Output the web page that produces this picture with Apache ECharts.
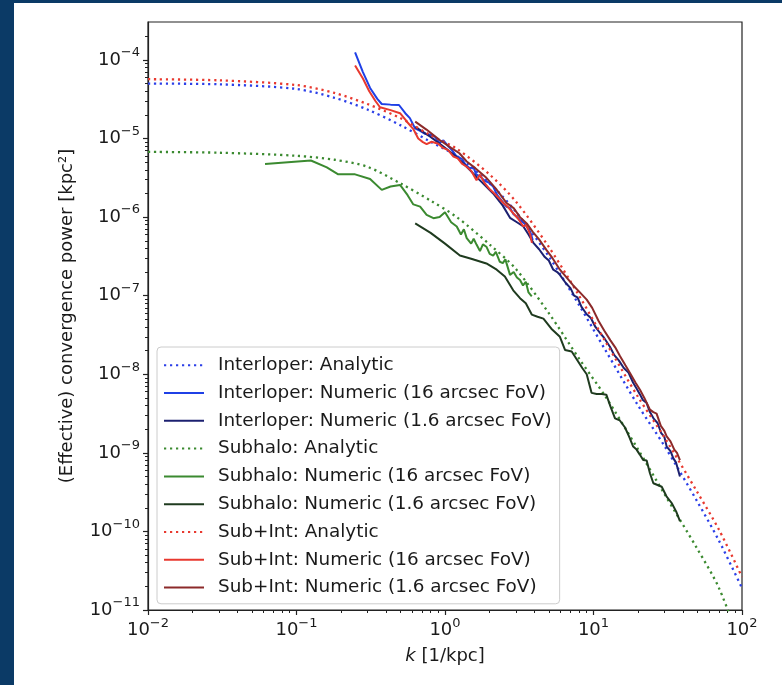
<!DOCTYPE html>
<html>
<head>
<meta charset="utf-8">
<script src="https://cdn.jsdelivr.net/npm/echarts@6/dist/echarts.min.js"></script>
<style>
html, body { margin: 0; padding: 0; background: #fff; }
#container { width: 782px; height: 685px; }
.edge { position: absolute; background: #0b3a66; }
</style>
</head>
<body>
<div id="container"></div>
<div class="edge" style="left:0;top:0;width:14px;height:685px"></div>
<div class="edge" style="left:0;top:0;width:782px;height:3px"></div>
<script>
// tick values
var xMajor = [0.01, 0.1, 1, 10, 100];
var yMajor = [1e-11, 1e-10, 1e-9, 1e-8, 1e-7, 1e-6, 1e-5, 1e-4];

// analytic curves
var kAnalytic = [0.01, 0.03, 0.1, 0.18, 0.3, 0.5, 0.8, 1.2, 2, 3, 5, 8, 12, 20, 30, 50, 70, 100];
var interAnalytic = [5.0e-5, 4.9e-5, 4.27e-5, 3.3e-5, 2.34e-5, 1.48e-5, 9.1e-6, 6.0e-6, 2.69e-6, 1.17e-6,
    3.16e-7, 7.6e-8, 2.04e-8, 3.98e-9, 1.23e-9, 2.4e-10, 7.6e-11, 1.9e-11];
var subAnalytic = [6.76e-6, 6.6e-6, 6.03e-6, 5.37e-6, 4.37e-6, 2.69e-6, 1.62e-6, 1.0e-6, 4.47e-7, 2.19e-7,
    6.0e-8, 1.58e-8, 5.25e-9, 1.1e-9, 3.0e-10, 6.0e-11, 1.9e-11, 3.2e-12];
var sumAnalytic = [5.69e-5, 5.5e-5, 4.79e-5, 3.8e-5, 2.75e-5, 1.82e-5, 1.1e-5, 7.4e-6, 3.47e-6, 1.58e-6,
    4.17e-7, 1.0e-7, 2.63e-8, 5.1e-9, 1.58e-9, 3.16e-10, 1.05e-10, 2.63e-11];

// interloper numeric, 16 arcsec
var kInter16 = [0.248, 0.28, 0.313, 0.35, 0.375, 0.43, 0.49, 0.54, 0.58, 0.628, 0.68, 0.73, 0.8, 0.857, 0.92,
    0.975, 1.05, 1.12, 1.2, 1.3, 1.38, 1.47, 1.55, 1.62, 1.72, 1.85, 1.97, 2.11, 2.25, 2.42, 2.6, 2.75, 2.88,
    3.03, 3.2, 3.38, 3.55, 3.75, 3.9];
var pInter16 = [1.25e-4, 7.0e-5, 4.4e-5, 3.2e-5, 2.75e-5, 2.7e-5, 2.67e-5, 2.1e-5, 1.82e-5, 1.35e-5, 1.25e-5,
    1.15e-5, 1.12e-5, 1.05e-5, 8.8e-6, 9.5e-6, 8.0e-6, 7.0e-6, 5.9e-6, 5.5e-6, 4.6e-6, 4.17e-6, 4.4e-6,
    3.5e-6, 3.3e-6, 2.9e-6, 2.75e-6, 2.45e-6, 1.9e-6, 1.6e-6, 1.35e-6, 1.3e-6, 1.1e-6, 1.02e-6, 9.2e-7,
    8.5e-7, 7.6e-7, 6.5e-7, 5.1e-7];

// interloper numeric, 1.6 arcsec
var kInter16s = [0.63, 0.8, 0.975, 1.2, 1.4, 1.7, 2.11, 2.45, 2.74, 3.05, 3.37, 3.65, 3.94, 4.3, 4.7, 5.0,
    5.36, 5.7, 5.94, 6.5, 7.0, 7.4, 7.8, 8.3, 9.0, 9.6, 10.3, 11.0, 11.8, 12.9, 13.8, 14.8, 16.0, 17.2,
    18.5, 19.5, 20.6, 21.5, 22.8, 24.0, 25.5, 27.0, 28.5, 30.0, 31.1, 33.0, 34.5, 36.0, 38.2];
var pInter16s = [1.41e-5, 1.05e-5, 7.9e-6, 5.8e-6, 4.37e-6, 3.0e-6, 2.0e-6, 1.4e-6, 9.8e-7, 8.6e-7, 7.6e-7,
    6.0e-7, 4.7e-7, 3.9e-7, 3.1e-7, 2.8e-7, 2.14e-7, 2.0e-7, 1.84e-7, 1.45e-7, 1.25e-7, 1.0e-7, 9.5e-8,
    7.2e-8, 5.8e-8, 5.2e-8, 4.0e-8, 3.4e-8, 2.9e-8, 2.24e-8, 1.75e-8, 1.5e-8, 1.2e-8, 1.05e-8, 7.8e-9,
    6.6e-9, 5.5e-9, 4.7e-9, 4.3e-9, 3.3e-9, 2.7e-9, 2.4e-9, 1.8e-9, 1.6e-9, 1.2e-9, 1.05e-9, 8.5e-10,
    7.5e-10, 5.0e-10];

// subhalo numeric, 16 arcsec
var kSub16 = [0.0614, 0.125, 0.16, 0.191, 0.248, 0.313, 0.375, 0.43, 0.498, 0.56, 0.612, 0.68, 0.752, 0.836,
    0.92, 1.0, 1.1, 1.2, 1.28, 1.34, 1.4, 1.5, 1.56, 1.63, 1.72, 1.8, 1.9, 2.0, 2.11, 2.2, 2.34, 2.45, 2.55,
    2.74, 2.9, 3.05, 3.2, 3.35, 3.5, 3.65, 3.84];
var pSub16 = [4.75e-6, 5.25e-6, 4.3e-6, 3.5e-6, 3.5e-6, 3.06e-6, 2.22e-6, 2.45e-6, 2.57e-6, 1.9e-6, 1.45e-6,
    1.36e-6, 1.07e-6, 9.7e-7, 1.0e-6, 1.15e-6, 8.6e-7, 7.6e-7, 6.0e-7, 7.0e-7, 5.4e-7, 4.6e-7, 5.3e-7,
    4.47e-7, 3.7e-7, 4.5e-7, 4.2e-7, 3.4e-7, 3.24e-7, 3.6e-7, 2.7e-7, 2.6e-7, 2.9e-7, 1.84e-7, 2.0e-7,
    1.7e-7, 1.58e-7, 1.35e-7, 1.5e-7, 1.1e-7, 9.8e-8];

// subhalo numeric, 1.6 arcsec
var kSub16s = [0.63, 0.8, 1.0, 1.26, 1.5, 1.9, 2.23, 2.53, 2.88, 3.2, 3.5, 3.84, 4.2, 4.6, 5.2, 5.94, 6.43,
    7.13, 7.8, 8.4, 9.0, 9.7, 10.5, 11.4, 12.2, 13.0, 13.96, 15.0, 16.3, 17.4, 18.5, 19.5, 20.5, 21.6, 22.8,
    24.0, 25.3, 27.0, 28.8, 31.0, 33.6, 36.0, 38.2];
var pSub16s = [8.3e-7, 6.3e-7, 4.6e-7, 3.24e-7, 2.95e-7, 2.57e-7, 2.14e-7, 1.75e-7, 1.17e-7, 9.3e-8, 8.0e-8,
    5.75e-8, 5.4e-8, 5.1e-8, 3.8e-8, 3.0e-8, 2.04e-8, 1.95e-8, 1.5e-8, 1.2e-8, 1.0e-8, 5.8e-9, 5.6e-9,
    5.6e-9, 5.5e-9, 3.9e-9, 2.75e-9, 2.6e-9, 2.1e-9, 1.6e-9, 1.2e-9, 1.1e-9, 9.5e-10, 8.1e-10, 8.0e-10,
    5.5e-10, 4.1e-10, 3.9e-10, 3.7e-10, 2.8e-10, 2.3e-10, 1.8e-10, 1.35e-10];

// sub+int numeric, 16 arcsec
var kSum16 = [0.248, 0.28, 0.309, 0.34, 0.365, 0.43, 0.498, 0.56, 0.612, 0.66, 0.71, 0.752, 0.813, 0.834,
    0.9, 0.97, 1.05, 1.14, 1.22, 1.3, 1.4, 1.5, 1.63, 1.72, 1.85, 2.01, 2.15, 2.3, 2.47, 2.65, 2.88, 3.1,
    3.37, 3.5, 3.64, 3.75, 3.85];
var pSum16 = [8.5e-5, 5.8e-5, 4.0e-5, 3.0e-5, 2.5e-5, 2.3e-5, 2.1e-5, 1.6e-5, 1.32e-5, 1.0e-5, 9.0e-6,
    8.5e-6, 9.1e-6, 9.5e-6, 8.6e-6, 7.6e-6, 7.1e-6, 5.9e-6, 5.6e-6, 4.8e-6, 4.37e-6, 3.9e-6, 2.95e-6,
    3.47e-6, 2.7e-6, 2.24e-6, 2.0e-6, 1.75e-6, 1.51e-6, 1.35e-6, 1.12e-6, 9.6e-7, 7.6e-7, 8.0e-7, 6.9e-7,
    6.0e-7, 4.7e-7];

// sub+int numeric, 1.6 arcsec
var kSum16s = [0.63, 0.75, 0.925, 1.1, 1.25, 1.4, 1.6, 1.9, 2.2, 2.6, 2.9, 3.2, 3.55, 3.9, 4.3, 4.83, 5.3,
    5.94, 6.6, 7.3, 8.1, 9.0, 9.8, 10.8, 11.8, 13.0, 14.0, 15.1, 16.4, 17.8, 19.2, 20.6, 22.0, 24.0, 25.3,
    26.6, 28.4, 30.0, 31.1, 33.0, 35.0, 36.5, 38.2];
var pSum16s = [1.64e-5, 1.3e-5, 9.5e-6, 7.6e-6, 6.5e-6, 5.1e-6, 4.2e-6, 3.16e-6, 2.3e-6, 1.51e-6, 1.3e-6,
    1.0e-6, 8.3e-7, 6.5e-7, 5.2e-7, 3.8e-7, 3.0e-7, 2.14e-7, 1.7e-7, 1.35e-7, 1.1e-7, 8.9e-8, 7.0e-8,
    4.8e-8, 3.6e-8, 2.7e-8, 2.2e-8, 1.7e-8, 1.3e-8, 1.0e-8, 7.8e-9, 6.3e-9, 5.0e-9, 3.55e-9, 3.3e-9,
    3.16e-9, 2.2e-9, 1.9e-9, 1.62e-9, 1.4e-9, 1.1e-9, 1.0e-9, 8.1e-10];

var names = [
    'Interloper: Analytic',
    'Interloper: Numeric (16 arcsec FoV)',
    'Interloper: Numeric (1.6 arcsec FoV)',
    'Subhalo: Analytic',
    'Subhalo: Numeric (16 arcsec FoV)',
    'Subhalo: Numeric (1.6 arcsec FoV)',
    'Sub+Int: Analytic',
    'Sub+Int: Numeric (16 arcsec FoV)',
    'Sub+Int: Numeric (1.6 arcsec FoV)'
];

var FONT = 'DejaVu Sans';
var TXT = '#1a1a1a';

// minor ticks at 2..9 x 10^n
var xMinor = [], yMinor = [];
for (var e = -2; e < 2; e++) {
    for (var m = 2; m < 10; m++) xMinor.push(m * Math.pow(10, e));
}
for (var e2 = -11; e2 < -3; e2++) {
    for (var m2 = 2; m2 < 10; m2++) {
        var v = m2 * Math.pow(10, e2);
        if (v < 3.0e-4) yMinor.push(v);
    }
}

function zip(xs, ys) {
    return xs.map(function (x, i) { return [x, ys[i]]; });
}

function sciLabel(val) {
    var p = Math.round(Math.log10(val));
    return '{b|10}{s|' + (p < 0 ? '\u2212' : '') + Math.abs(p) + '}';
}

var labelRich = {
    b: { fontFamily: FONT, fontSize: 18, color: TXT },
    s: { fontFamily: FONT, fontSize: 13, color: TXT, padding: [0, 0, 14, 0] }
};

function makeLine(name, xs, ys, color, dotted, smooth) {
    return {
        name: name,
        type: 'line',
        data: zip(xs, ys),
        symbol: 'none',
        smooth: smooth ? 0.3 : false,
        clip: true,
        silent: true,
        lineStyle: {
            color: color,
            width: dotted ? 2.3 : 2,
            type: dotted ? [2.2, 3.8] : 'solid',
            cap: 'butt'
        },
        itemStyle: { color: color },
        emphasis: { disabled: true }
    };
}

var myChart = echarts.init(document.getElementById('container'));
var option = {
    animation: false,
    backgroundColor: '#ffffff',
    grid: {
        left: 148, right: 40, top: 22, bottom: 75,
        show: true, borderColor: '#222', borderWidth: 1.2,
        containLabel: false, outerBoundsMode: 'none'
    },
    legend: {
        data: names,
        orient: 'vertical',
        left: 157,
        top: 347,
        itemWidth: 40,
        itemHeight: 14,
        itemGap: 9.4,
        padding: [9, 8, 7, 6],
        backgroundColor: 'rgba(255,255,255,0.85)',
        borderColor: '#cccccc',
        borderWidth: 1,
        borderRadius: 4,
        selectedMode: false,
        // hide the marker dot, keep the line
        itemStyle: { opacity: 0, borderWidth: 0 },
        textStyle: { fontFamily: FONT, fontSize: 18.4, color: TXT, lineHeight: 18.4, padding: [0, 0, 0, 9] }
    },
    xAxis: [{
        type: 'log', min: 0.01, max: 100, position: 'bottom',
        name: '{i|k} [1/kpc]',
        nameLocation: 'middle',
        nameGap: 37,
        nameTextStyle: {
            fontFamily: FONT, fontSize: 18, color: TXT,
            rich: { i: { fontFamily: FONT, fontSize: 18, fontStyle: 'italic', color: TXT } }
        },
        axisLine: { show: true, lineStyle: { color: '#222', width: 1.2 } },
        axisTick: { show: true, length: 5, customValues: xMajor, lineStyle: { color: '#222', width: 1.2 } },
        axisLabel: { customValues: xMajor, formatter: sciLabel, margin: 7, rich: labelRich },
        splitLine: { show: false }
    }, {
        type: 'log', min: 0.01, max: 100, position: 'bottom',
        axisLine: { show: false },
        axisTick: { show: true, length: 3, customValues: xMinor, lineStyle: { color: '#222', width: 1 } },
        axisLabel: { show: false },
        splitLine: { show: false }
    }],
    yAxis: [{
        type: 'log', min: 1e-11, max: 3.04e-4, position: 'left',
        name: '(Effective) convergence power [kpc\u00b2]',
        nameLocation: 'middle',
        nameGap: 72,
        nameTextStyle: { fontFamily: FONT, fontSize: 18, color: TXT },
        axisLine: { show: true, lineStyle: { color: '#222', width: 1.2 } },
        axisTick: { show: true, length: 5, customValues: yMajor, lineStyle: { color: '#222', width: 1.2 } },
        axisLabel: { customValues: yMajor, formatter: sciLabel, margin: 8, rich: labelRich },
        splitLine: { show: false }
    }, {
        type: 'log', min: 1e-11, max: 3.04e-4, position: 'left',
        axisLine: { show: false },
        axisTick: { show: true, length: 3, customValues: yMinor, lineStyle: { color: '#222', width: 1 } },
        axisLabel: { show: false },
        splitLine: { show: false }
    }],
    series: [
        makeLine(names[0], kAnalytic, interAnalytic, '#2b3fe8', true, true),
        makeLine(names[1], kInter16, pInter16, '#1f40e6', false),
        makeLine(names[2], kInter16s, pInter16s, '#1c2070', false),
        makeLine(names[3], kAnalytic, subAnalytic, '#3b8a30', true, true),
        makeLine(names[4], kSub16, pSub16, '#3b8a30', false),
        makeLine(names[5], kSub16s, pSub16s, '#1f3b1f', false),
        makeLine(names[6], kAnalytic, sumAnalytic, '#e8392f', true, true),
        makeLine(names[7], kSum16, pSum16, '#e8392f', false),
        makeLine(names[8], kSum16s, pSum16s, '#8c2a2a', false)
    ]
};
myChart.setOption(option, true);
</script>
</body>
</html>
